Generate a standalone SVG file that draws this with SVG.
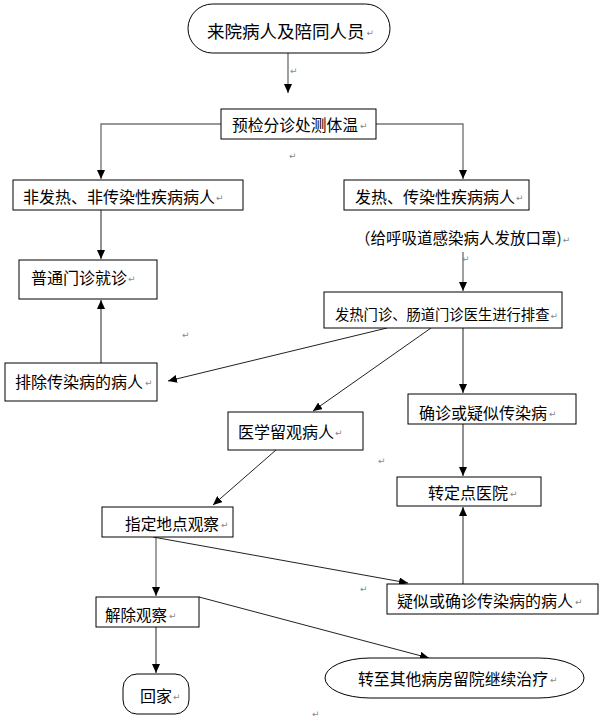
<svg xmlns="http://www.w3.org/2000/svg" width="603" height="726" viewBox="0 0 603 726">
<style>
.bx{fill:#fff;stroke:#000;stroke-width:1}
.t{font-family:"Noto Sans CJK SC","Noto Sans CJK TC",sans-serif;font-size:16px;fill:#000;dominant-baseline:central}
.pm{font-family:"DejaVu Sans",sans-serif;font-size:9px;fill:#888}
.c{fill:none;stroke:#222;stroke-width:1}
.g{fill:none;stroke:#777;stroke-width:1.4}
</style>
<defs>
<marker id="ah" markerUnits="userSpaceOnUse" markerWidth="9" markerHeight="8" refX="9" refY="4" orient="auto">
<path d="M0,0 L9,4 L0,8 z" fill="#000"/>
</marker>
</defs>
<rect width="603" height="726" fill="#fff"/>
<g id="connectors">
<path class="g" d="M288,53 V93" marker-end="url(#ah)"/>
<path class="g" d="M221,124 H101 V179" marker-end="url(#ah)"/>
<path class="g" d="M376,124 H463 V179" marker-end="url(#ah)"/>
<path class="c" d="M101,210 V259" marker-end="url(#ah)"/>
<path class="g" d="M463,252 V291" marker-end="url(#ah)"/>
<path class="c" d="M101,363 V300" marker-end="url(#ah)"/>
<path class="c" d="M387,328 L168,381" marker-end="url(#ah)"/>
<path class="c" d="M431,328 L313,411" marker-end="url(#ah)"/>
<path class="c" d="M463,328 V393" marker-end="url(#ah)"/>
<path class="c" d="M463,424 V476" marker-end="url(#ah)"/>
<path class="c" d="M276,450 L213,505" marker-end="url(#ah)"/>
<path class="g" d="M156,537 V596" marker-end="url(#ah)"/>
<path class="c" d="M153,537 L408,583" marker-end="url(#ah)"/>
<path class="c" d="M463,584 V507" marker-end="url(#ah)"/>
<path class="c" d="M199,597 L429,658" marker-end="url(#ah)"/>
<path class="c" d="M156,627 V673" marker-end="url(#ah)"/>
</g>
<g id="n_start"><rect class="bx" x="188" y="4" width="202" height="49" rx="24.5"/><text class="t" x="207" y="30" style="font-size:17.5px">来院病人及陪同人员<tspan class="pm" dx="2" dy="3">↵</tspan></text></g>
<g id="n_yujian"><rect class="bx" x="221" y="109" width="155" height="30"/><text class="t" x="232" y="124" textLength="126" lengthAdjust="spacingAndGlyphs">预检分诊处测体温</text><text class="pm" x="360" y="129">↵</text></g>
<g id="n_feifare"><rect class="bx" x="13" y="180" width="230" height="30"/><text class="t" x="23" y="196">非发热、非传染性疾病病人</text><text class="pm" x="216" y="201">↵</text></g>
<g id="n_fare"><rect class="bx" x="344" y="180" width="185" height="30"/><text class="t" x="355" y="196">发热、传染性疾病病人</text><text class="pm" x="516" y="201">↵</text></g>
<g id="n_putong"><rect class="bx" x="19" y="260" width="138" height="39"/><text class="t" x="31" y="277">普通门诊就诊</text><text class="pm" x="128" y="282">↵</text></g>
<g id="n_kouzhao"><text class="t" x="355" y="237" style="font-size:15.5px">（给呼吸道感染病人发放口罩)<tspan class="pm" dx="1" dy="3">↵</tspan></text></g>
<g id="n_paicha"><rect class="bx" x="324" y="292" width="238" height="36"/><text class="t" x="335" y="313" style="font-size:14.3px">发热门诊、肠道门诊医生进行排查<tspan class="pm" dx="1" dy="3">↵</tspan></text></g>
<g id="n_paichu"><rect class="bx" x="5" y="363" width="152" height="38"/><text class="t" x="15" y="381">排除传染病的病人</text><text class="pm" x="145" y="386">↵</text></g>
<g id="n_liuguan"><rect class="bx" x="228" y="412" width="135" height="38"/><text class="t" x="238" y="431">医学留观病人</text><text class="pm" x="335" y="436">↵</text></g>
<g id="n_quezhen"><rect class="bx" x="408" y="394" width="168" height="30"/><text class="t" x="419" y="412">确诊或疑似传染病</text><text class="pm" x="549" y="417">↵</text></g>
<g id="n_zhuanding"><rect class="bx" x="397" y="477" width="144" height="29"/><text class="t" x="428" y="492">转定点医院</text><text class="pm" x="510" y="497">↵</text></g>
<g id="n_zhiding"><rect class="bx" x="102" y="507" width="131" height="30"/><text class="t" x="125" y="523" textLength="94" lengthAdjust="spacingAndGlyphs">指定地点观察</text><text class="pm" x="221" y="528">↵</text></g>
<g id="n_jiechu"><rect class="bx" x="96" y="597" width="103" height="30"/><text class="t" x="105" y="614" textLength="62" lengthAdjust="spacingAndGlyphs">解除观察</text><text class="pm" x="169" y="619">↵</text></g>
<g id="n_yisi"><rect class="bx" x="387" y="584" width="211" height="30"/><text class="t" x="397" y="600">疑似或确诊传染病的病人</text><text class="pm" x="575" y="605">↵</text></g>
<g id="n_huijia"><rect class="bx" x="123" y="674" width="66" height="40" rx="14"/><text class="t" x="140" y="695">回家</text><text class="pm" x="173" y="700">↵</text></g>
<g id="n_zhuanzhi"><rect class="bx" x="325" y="658" width="259" height="40" rx="45" ry="20"/><text class="t" x="358" y="678" textLength="190" lengthAdjust="spacingAndGlyphs">转至其他病房留院继续治疗</text><text class="pm" x="550" y="683">↵</text></g>
<g id="marks">
<text class="pm" x="290" y="74">↵</text>
<text class="pm" x="289" y="159">↵</text>
<text class="pm" x="462" y="262">↵</text>
<text class="pm" x="182" y="338">↵</text>
<text class="pm" x="378" y="464">↵</text>
<text class="pm" x="360" y="592">↵</text>
<text class="pm" x="312" y="717">↵</text>
</g>
</svg>
